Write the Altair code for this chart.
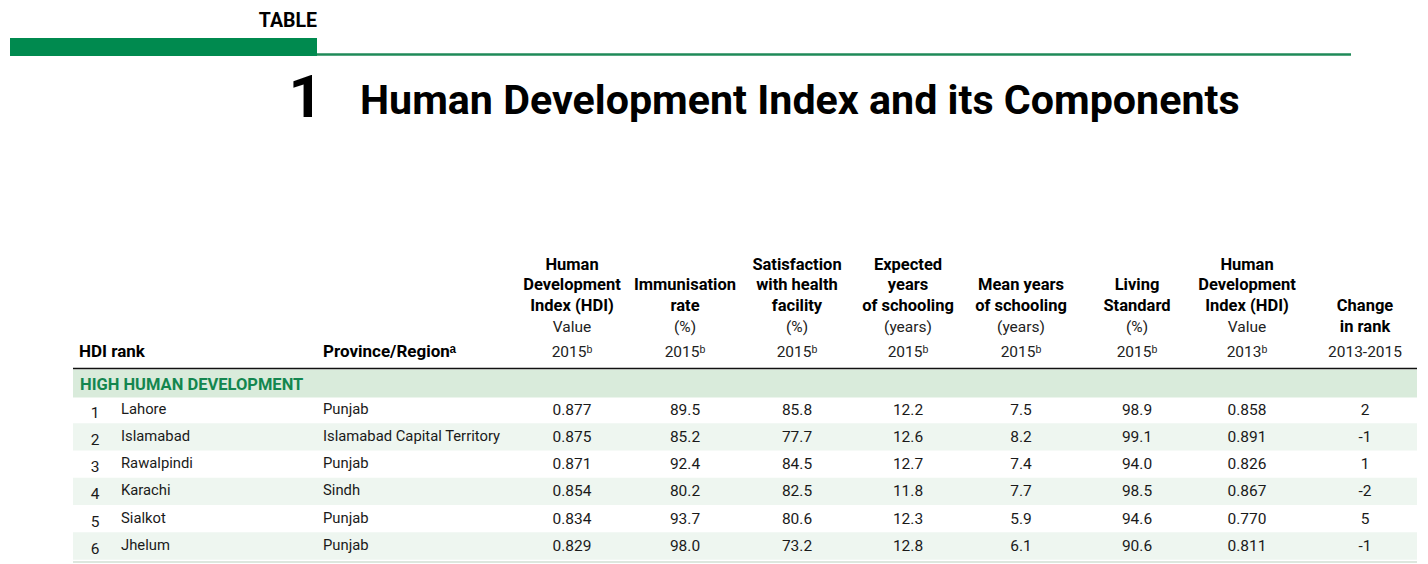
import altair as alt
import pandas as pd

# ---------------- data ----------------
ranks = [1, 2, 3, 4, 5, 6]
cities = ["Lahore", "Islamabad", "Rawalpindi", "Karachi", "Sialkot", "Jhelum"]
provinces = ["Punjab", "Islamabad Capital Territory", "Punjab", "Sindh", "Punjab", "Punjab"]
hdi_2015 = [0.877, 0.875, 0.871, 0.854, 0.834, 0.829]
immunisation = [89.5, 85.2, 92.4, 80.2, 93.7, 98.0]
satisfaction = [85.8, 77.7, 84.5, 82.5, 80.6, 73.2]
expected_school = [12.2, 12.6, 12.7, 11.8, 12.3, 12.8]
mean_school = [7.5, 8.2, 7.4, 7.7, 5.9, 6.1]
living = [98.9, 99.1, 94.0, 98.5, 94.6, 90.6]
hdi_2013 = [0.858, 0.891, 0.826, 0.867, 0.770, 0.811]
rank_change = [2, -1, 1, -2, 5, -1]

header_bold = [
    ["Human", "Development", "Index (HDI)"],
    ["Immunisation", "rate"],
    ["Satisfaction", "with health", "facility"],
    ["Expected", "years", "of schooling"],
    ["Mean years", "of schooling"],
    ["Living", "Standard"],
    ["Human", "Development", "Index (HDI)"],
    ["Change", "in rank"],
]
header_unit = ["Value", "(%)", "(%)", "(years)", "(years)", "(%)", "Value", ""]
header_year = ["2015ᵇ", "2015ᵇ", "2015ᵇ", "2015ᵇ", "2015ᵇ", "2015ᵇ", "2013ᵇ", "2013-2015"]
section_label = "HIGH HUMAN DEVELOPMENT"

# ---------------- layout / style ----------------
W, H = 1412, 556
FONT = "Roboto, Liberation Sans, sans-serif"
GREEN = "#008a4f"
col_x = [87, 113, 315, 564, 677, 789, 900, 1013, 1129, 1239, 1357]
row_y = [401.5, 538]
slot_y = [344, 319, 297.5, 277, 256.5]

xs = alt.X("c:Q", scale=alt.Scale(domain=list(range(len(col_x))), range=col_x, nice=False, zero=False), axis=None)
ys_row = alt.Y("r:Q", scale=alt.Scale(domain=[0, 5], range=row_y, nice=False, zero=False), axis=None)
ys_slot = alt.Y("s:Q", scale=alt.Scale(domain=list(range(len(slot_y))), range=slot_y, nice=False, zero=False), axis=None)

# ---------------- tables ----------------
num_cols = [
    (hdi_2015, "{:.3f}"), (immunisation, "{:.1f}"), (satisfaction, "{:.1f}"),
    (expected_school, "{:.1f}"), (mean_school, "{:.1f}"), (living, "{:.1f}"),
    (hdi_2013, "{:.3f}"), (rank_change, "{:d}"),
]
num_rows, left_rows, rank_rows = [], [], []
for i in range(len(cities)):
    rank_rows.append({"c": 0, "r": i, "t": str(ranks[i])})
    left_rows.append({"c": 1, "r": i, "t": cities[i]})
    left_rows.append({"c": 2, "r": i, "t": provinces[i]})
    for j, (vals, fmt) in enumerate(num_cols):
        num_rows.append({"c": 3 + j, "r": i, "t": fmt.format(vals[i])})

band_rows = [{"r0": i - 0.5, "r1": i + 0.5} for i in range(len(cities)) if i % 2 == 1]

hb_rows, hr_rows = [], []
for j in range(len(header_bold)):
    c = 3 + j
    hr_rows.append({"c": c, "s": 0, "t": header_year[j]})
    if header_unit[j]:
        hr_rows.append({"c": c, "s": 1, "t": header_unit[j]})
        start = 2
    else:
        start = 1
    for k, line in enumerate(reversed(header_bold[j])):
        hb_rows.append({"c": c, "s": start + k, "t": line})

# ---------------- layers ----------------
base_text = dict(font=FONT, baseline="middle")

bands = alt.Chart(pd.DataFrame(band_rows)).mark_rect(color="#eef6f0").encode(
    x=alt.value(65), x2=alt.value(1409),
    y=alt.Y("r0:Q", scale=alt.Scale(domain=[0, 5], range=row_y, nice=False, zero=False), axis=None),
    y2="r1:Q",
)
section_band = alt.Chart(pd.DataFrame({"a": [0]})).mark_rect(color="#d9ebdb").encode(
    x=alt.value(65), x2=alt.value(1409), y=alt.value(361.5), y2=alt.value(389.5))
header_line = alt.Chart(pd.DataFrame({"a": [0]})).mark_rule(color="#111111", strokeWidth=1.5).encode(
    x=alt.value(65), x2=alt.value(1409), y=alt.value(360.5))
bottom_line = alt.Chart(pd.DataFrame({"a": [0]})).mark_rule(color="#dde7de", strokeWidth=2).encode(
    x=alt.value(65), x2=alt.value(1409), y=alt.value(554))
green_bar = alt.Chart(pd.DataFrame({"a": [0]})).mark_rect(color=GREEN).encode(
    x=alt.value(2), x2=alt.value(309), y=alt.value(30), y2=alt.value(48))
green_line = alt.Chart(pd.DataFrame({"a": [0]})).mark_rule(color="#1f8a58", strokeWidth=2.5).encode(
    x=alt.value(309), x2=alt.value(1343), y=alt.value(46.5))

txt_table = alt.Chart(pd.DataFrame({"t": ["TABLE"]})).mark_text(
    font=FONT, fontSize=19.5, fontWeight="bold", align="right", baseline="alphabetic", color="#000").encode(
    x=alt.value(309), y=alt.value(18.5), text="t:N")
txt_num = alt.Chart(pd.DataFrame({"t": ["1"]})).mark_text(
    font=FONT, fontSize=60, fontWeight="bold", align="right", baseline="alphabetic", color="#000").encode(
    x=alt.value(315), y=alt.value(109), text="t:N")
txt_title = alt.Chart(pd.DataFrame({"t": ["Human Development Index and its Components"]})).mark_text(
    font=FONT, fontSize=41.2, fontWeight="bold", align="left", baseline="alphabetic", color="#000").encode(
    x=alt.value(352), y=alt.value(106), text="t:N")

hdr_left = alt.Chart(pd.DataFrame({"t": ["HDI rank", "Province/Regionᵃ"], "px": [71, 315]})).mark_text(
    fontSize=17, fontWeight="bold", align="left", color="#000", **base_text).encode(
    x=alt.X("px:Q", scale=alt.Scale(domain=[0, W], range=[0, W], nice=False, zero=False), axis=None),
    y=alt.value(343.5), text="t:N")
hdr_bold = alt.Chart(pd.DataFrame(hb_rows)).mark_text(
    fontSize=16.5, fontWeight="bold", align="center", color="#000", **base_text).encode(
    x=xs, y=ys_slot, text="t:N")
hdr_reg = alt.Chart(pd.DataFrame(hr_rows)).mark_text(
    fontSize=15.5, align="center", color="#222", **base_text).encode(
    x=xs, y=ys_slot, text="t:N")
sec_txt = alt.Chart(pd.DataFrame({"t": [section_label]})).mark_text(
    fontSize=16.5, fontWeight="bold", align="left", color="#13864f", **base_text).encode(
    x=alt.value(72), y=alt.value(377), text="t:N")

cells_rank = alt.Chart(pd.DataFrame(rank_rows)).mark_text(
    fontSize=15.5, align="center", dy=3, color="#1a1a1a", **base_text).encode(x=xs, y=ys_row, text="t:N")
cells_left = alt.Chart(pd.DataFrame(left_rows)).mark_text(
    fontSize=14.8, align="left", color="#1a1a1a", **base_text).encode(x=xs, y=ys_row, text="t:N")
cells_num = alt.Chart(pd.DataFrame(num_rows)).mark_text(
    fontSize=15.5, align="center", color="#1a1a1a", **base_text).encode(x=xs, y=ys_row, text="t:N")

chart = alt.layer(
    section_band, bands, header_line, bottom_line, green_bar, green_line,
    txt_table, txt_num, txt_title, hdr_left, hdr_bold, hdr_reg, sec_txt,
    cells_rank, cells_left, cells_num,
).resolve_scale(x="independent", y="independent").properties(
    width=W, height=H, padding=0, background="white",
    autosize=alt.AutoSizeParams(type="none"),
).configure_view(stroke=None)

chart.save("out.html", embed_options={"renderer": "svg", "actions": False})
